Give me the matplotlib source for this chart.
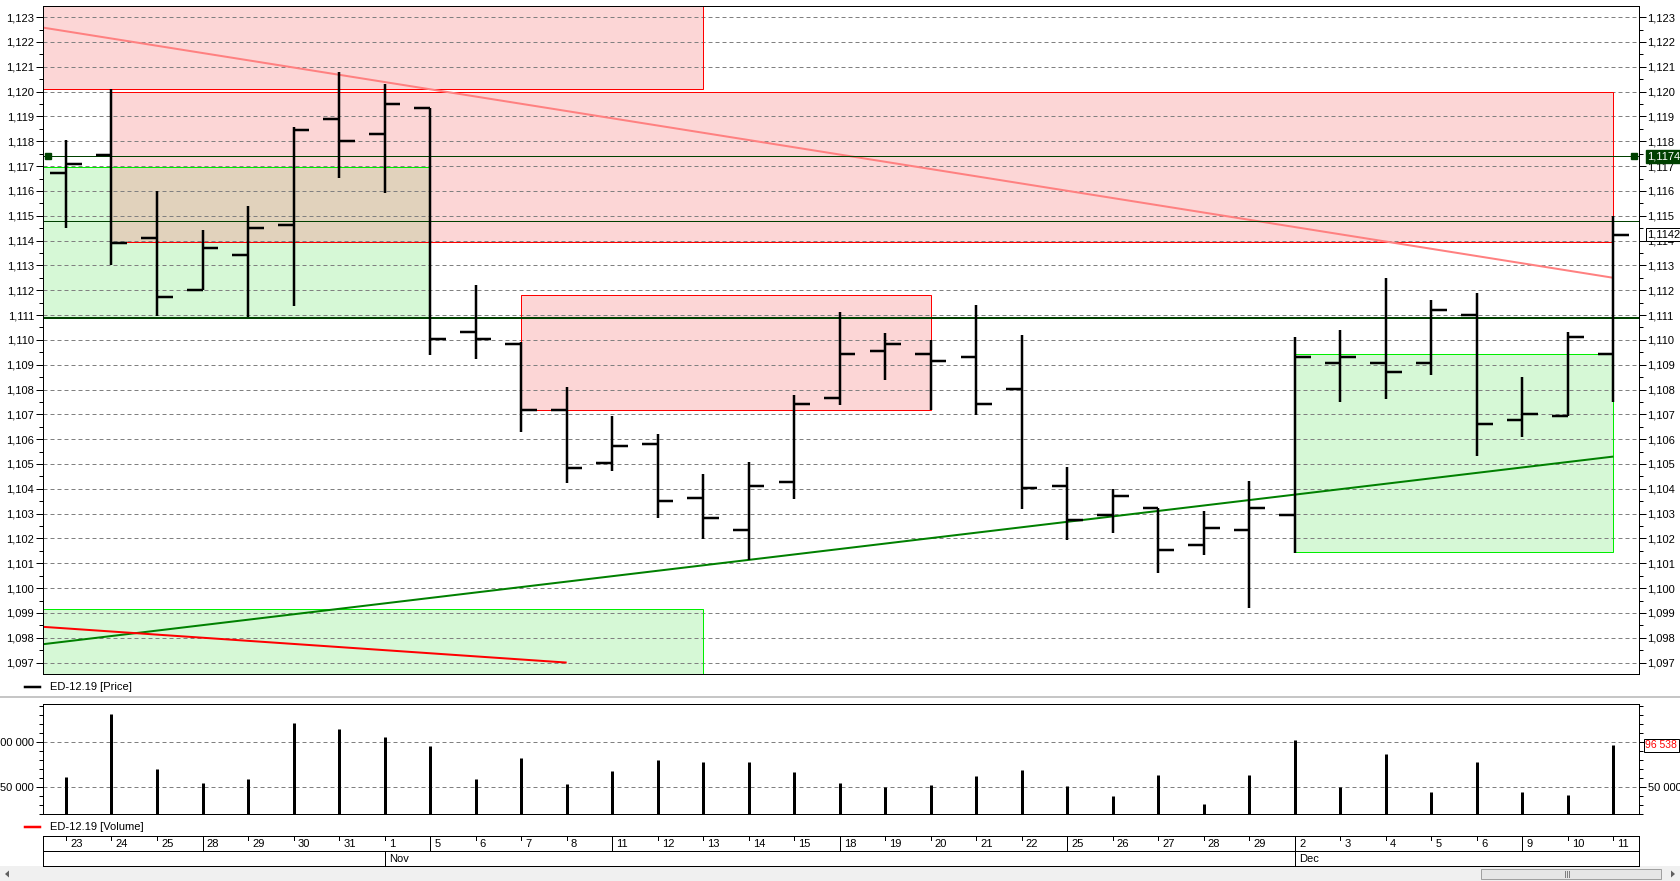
import matplotlib
matplotlib.use('Agg')
import matplotlib.pyplot as plt
from matplotlib.patches import Rectangle, Polygon
from matplotlib.lines import Line2D
from matplotlib.ticker import FuncFormatter, MultipleLocator

plt.rcParams['font.family'] = ['Liberation Sans', 'DejaVu Sans']
plt.rcParams['font.size'] = 8

# ---------------- data ----------------
days = ['23', '24', '25', '28', '29', '30', '31', '1', '5', '6', '7', '8', '11', '12',
        '13', '14', '15', '18', '19', '20', '21', '22', '25', '26', '27', '28', '29',
        '2', '3', '4', '5', '6', '9', '10', '11']
month_labels = ['Nov', 'Dec']
month_start_idx = [7, 27]
week_start_idx = [3, 8, 12, 17, 22, 27, 32]

opens = [1.11674, 1.11744, 1.11412, 1.11202, 1.11342, 1.11461, 1.11891, 1.11830, 1.11933,
         1.11033, 1.10984, 1.10716, 1.10505, 1.10581, 1.10363, 1.10235, 1.10426, 1.10765,
         1.10954, 1.10943, 1.10933, 1.10803, 1.10411, 1.10295, 1.10324, 1.10174, 1.10235,
         1.10295, 1.10905, 1.10905, 1.10905, 1.11102, 1.10676, 1.10693, 1.10943]
highs = [1.11807, 1.12012, 1.11601, 1.11443, 1.11538, 1.11859, 1.12078, 1.12029, 1.11933,
         1.11221, 1.10990, 1.10810, 1.10693, 1.10620, 1.10461, 1.10508, 1.10779, 1.11111,
         1.11029, 1.11001, 1.11139, 1.11019, 1.10489, 1.10401, 1.10324, 1.10312, 1.10431,
         1.11012, 1.11038, 1.11249, 1.11160, 1.11190, 1.10849, 1.11031, 1.11499]
lows = [1.11450, 1.11302, 1.11097, 1.11202, 1.11094, 1.11137, 1.11651, 1.11592, 1.10940,
        1.10921, 1.10630, 1.10422, 1.10470, 1.10281, 1.10199, 1.10115, 1.10360, 1.10739,
        1.10840, 1.10716, 1.10699, 1.10320, 1.10193, 1.10220, 1.10062, 1.10132, 1.09921,
        1.10141, 1.10751, 1.10762, 1.10860, 1.10531, 1.10610, 1.10693, 1.10751]
closes = [1.11709, 1.11389, 1.11172, 1.11370, 1.11452, 1.11844, 1.11802, 1.11950, 1.11005,
          1.11005, 1.10716, 1.10484, 1.10573, 1.10351, 1.10284, 1.10411, 1.10742, 1.10943,
          1.10984, 1.10914, 1.10742, 1.10403, 1.10276, 1.10373, 1.10153, 1.10242, 1.10324,
          1.10933, 1.10933, 1.10872, 1.11122, 1.10662, 1.10702, 1.11013, 1.11424]
volumes = [61900, 131900, 70700, 55200, 58900, 121100, 114400, 105600, 96300, 59600,
           83000, 54100, 68500, 80700, 78500, 78500, 67400, 54800, 50000, 53000,
           62600, 69600, 51500, 40700, 63700, 31900, 63700, 103000, 50700, 87400,
           45200, 78500, 45200, 41900, 96538]

# drawn zones: (start bar, end bar, low price, high price); None = chart edge
red_zones = [(None, 14, 1.12012, None), (1, 34, 1.11394, 1.11999), (10, 19, 1.10716, 1.11179)]
green_zones = [(None, 8, 1.11089, 1.11697), (27, 34, 1.10146, 1.10942), (None, 14, None, 1.09914)]
# trend lines: (start bar, start price, end bar, end price)
resist_line = (None, 1.12258, 34, 1.11250)
support_line = (None, 1.09774, 34, 1.10530)
red_short_line = (None, 1.09844, 11, 1.09700)
level_marked = 1.1174
level_thin = 1.1148
level_thick = 1.1109
last_price_label = '1,1142'
last_volume_label = '96 538'

# ---------------- layout ----------------
W, H = 1680, 881
fig = plt.figure(figsize=(W / 100, H / 100), dpi=100)
fig.patch.set_facecolor('white')


def box(x0, y0, x1, y1):
    return [x0 / W, 1 - y1 / H, (x1 - x0) / W, (y1 - y0) / H]


XMIN, XMAX = -0.505, 34.55
n = len(days)
xs = list(range(n))
PX = 0.72  # 1 px in points

ax = fig.add_axes(box(43, 6, 1638.5, 674))
vax = fig.add_axes(box(43, 704.3, 1638.5, 814.3))
dax = fig.add_axes(box(43, 836, 1638.5, 866))

dash = (0, (4, 3))

# ---------------- price panel ----------------
ax.set_xlim(XMIN, XMAX)
ax.set_ylim(1.09654, 1.12345)
ax.set_axisbelow(True)
ax.yaxis.set_major_locator(MultipleLocator(0.001))
ax.yaxis.set_minor_locator(MultipleLocator(0.0005))
ax.yaxis.set_major_formatter(FuncFormatter(lambda v, p: f"{v:.3f}".replace('.', ',')))
ax.tick_params(axis='y', which='major', length=7 * PX, width=PX, left=True, right=True,
               labelleft=True, labelright=True, pad=1.5)
ax.tick_params(axis='y', which='minor', length=4 * PX, width=PX, left=True, right=True)
ax.set_xticks([])
ax.grid(axis='y', which='major', color='#808080', linestyle=dash, linewidth=PX)
for s in ax.spines.values():
    s.set_linewidth(PX)

ylo, yhi = ax.get_ylim()

RED_FACE = (0.97, 0.55, 0.55, 0.35)
GREEN_FACE = (0.0, 0.85, 0.0, 0.16)


def zone(a, z, face, edge):
    x0 = XMIN if z[0] is None else z[0]
    x1 = XMAX if z[1] is None else z[1]
    y0 = ylo if z[2] is None else z[2]
    y1 = yhi if z[3] is None else z[3]
    a.add_patch(Rectangle((x0, y0), x1 - x0, y1 - y0, facecolor=face, edgecolor='none', zorder=0.2))
    a.add_patch(Rectangle((x0, y0), x1 - x0, y1 - y0, facecolor='none', edgecolor=edge,
                          linewidth=PX, zorder=1.2))


for z in green_zones:
    zone(ax, z, GREEN_FACE, '#00ee00')
for z in red_zones:
    zone(ax, z, RED_FACE, '#ff0000')


def tline(a, t, color, lw):
    x0 = XMIN if t[0] is None else t[0]
    a.plot([x0, t[2]], [t[1], t[3]], color=color, linewidth=lw, zorder=2, solid_capstyle='butt')


tline(ax, resist_line, '#ff8080', 2 * PX)
tline(ax, support_line, '#008000', 2 * PX)
tline(ax, red_short_line, '#ff0000', 2 * PX)

ax.axhline(level_thin, color='#004000', linewidth=PX, zorder=2)
ax.axhline(level_thick, color='#004000', linewidth=2 * PX, zorder=2)
ax.axhline(level_marked, color='#004000', linewidth=PX, zorder=2)
ax.plot([XMIN + 0.1, XMAX - 0.1], [level_marked, level_marked], linestyle='none', marker='s',
        markersize=4.5, color='#004000', zorder=3, clip_on=False)

# OHLC bars
tick = 0.345
bw = 2.5 * PX
ax.vlines(xs, lows, highs, color='black', linewidth=bw, zorder=4)
ax.hlines(opens, [x - tick for x in xs], xs, color='black', linewidth=bw, zorder=4)
ax.hlines(closes, xs, [x + tick for x in xs], color='black', linewidth=bw, zorder=4)

ax.annotate(f"{level_marked:.4f}".replace('.', ','), xy=(1, level_marked),
            xycoords=('axes fraction', 'data'), xytext=(6.4, 0), textcoords='offset points',
            va='center', ha='left', color='white', fontsize=8, annotation_clip=False, zorder=6,
            bbox=dict(boxstyle='square,pad=0.15', fc='#004000', ec='#004000'))
ax.annotate(last_price_label, xy=(1, closes[-1]),
            xycoords=('axes fraction', 'data'), xytext=(6.4, 0), textcoords='offset points',
            va='center', ha='left', color='black', fontsize=8, annotation_clip=False, zorder=6,
            bbox=dict(boxstyle='square,pad=0.15', fc='white', ec='black', lw=PX))

# ---------------- volume panel ----------------
vax.set_xlim(XMIN, XMAX)
vax.set_ylim(20000, 142222)
vax.set_axisbelow(True)
vax.set_yticks([50000, 100000])
vax.yaxis.set_minor_locator(MultipleLocator(10000))
vax.yaxis.set_major_formatter(FuncFormatter(lambda v, p: f"{int(v):,}".replace(',', ' ')))
vax.tick_params(axis='y', which='major', length=7 * PX, width=PX, left=True, right=True,
                labelleft=True, labelright=True, pad=1.5)
vax.tick_params(axis='y', which='minor', length=4 * PX, width=PX, left=True, right=True)
vax.set_xticks([])
vax.grid(axis='y', which='major', color='#808080', linestyle=dash, linewidth=PX)
for s in vax.spines.values():
    s.set_linewidth(PX)
vax.vlines(xs, 20000, volumes, color='black', linewidth=3 * PX, zorder=3)
# the right-hand 100 000 label is hidden behind the last-volume box in the reference
vax.yaxis.get_major_ticks()[1].label2.set_visible(False)
vax.annotate(last_volume_label, xy=(1, volumes[-1]),
             xycoords=('axes fraction', 'data'), xytext=(5.0, 0), textcoords='offset points',
             va='center', ha='left', color='red', fontsize=7.5, annotation_clip=False, zorder=6,
             bbox=dict(boxstyle='square,pad=0.12', fc='white', ec='black', lw=PX))

# ---------------- date axis ----------------
dax.set_xlim(XMIN, XMAX)
dax.set_ylim(0, 2)
dax.set_xticks([])
dax.set_yticks([])
for s in dax.spines.values():
    s.set_linewidth(PX)
dax.axhline(1, color='black', linewidth=PX)
for i, d in enumerate(days):
    if i in week_start_idx:
        dax.plot([i, i], [1, 2], color='black', linewidth=PX)
    else:
        dax.plot([i, i], [1.73, 2], color='black', linewidth=PX)
    dax.text(i + 0.09, 1.47, d, ha='left', va='center', fontsize=8)
for i, m in zip(month_start_idx, month_labels):
    dax.plot([i, i], [0, 1], color='black', linewidth=PX)
    dax.text(i + 0.09, 0.47, m, ha='left', va='center', fontsize=8)

# ---------------- legends / chrome ----------------
fig.add_artist(Line2D([0, 1], [1 - 696.7 / H] * 2, color='#b4b4b4', linewidth=1.5 * PX,
                      transform=fig.transFigure))
fig.add_artist(Line2D([25 / W, 40 / W], [1 - 686.5 / H] * 2, color='black', linewidth=2.5 * PX,
                      transform=fig.transFigure))
fig.text(50 / W, 1 - 686.5 / H, 'ED-12.19 [Price]', va='center', ha='left', fontsize=8)
fig.add_artist(Line2D([25 / W, 40 / W], [1 - 826.7 / H] * 2, color='red', linewidth=2.5 * PX,
                      transform=fig.transFigure))
fig.text(50 / W, 1 - 826.7 / H, 'ED-12.19 [Volume]', va='center', ha='left', fontsize=8)

# scroll bar strip
fig.add_artist(Rectangle((0, 0), 1, 15 / H, transform=fig.transFigure, facecolor='#f0f0f0',
                         edgecolor='none', zorder=0))
fig.add_artist(Rectangle((1481 / W, 2 / H), 180 / W, 10 / H, transform=fig.transFigure,
                         facecolor='#e6e6e6', edgecolor='#a0a0a0', linewidth=PX))
for dx in (-2, 0, 2):
    fig.add_artist(Line2D([(1567 + dx) / W] * 2, [4 / H, 10 / H], color='#808080',
                          linewidth=PX, transform=fig.transFigure))
fig.add_artist(Polygon([(5 / W, 7 / H), (9 / W, 10.5 / H), (9 / W, 3.5 / H)], closed=True,
                       transform=fig.transFigure, facecolor='#606060', edgecolor='none'))
fig.add_artist(Polygon([(1675 / W, 7 / H), (1671 / W, 10.5 / H), (1671 / W, 3.5 / H)], closed=True,
                       transform=fig.transFigure, facecolor='#606060', edgecolor='none'))

fig.savefig('out.png', dpi=100)
